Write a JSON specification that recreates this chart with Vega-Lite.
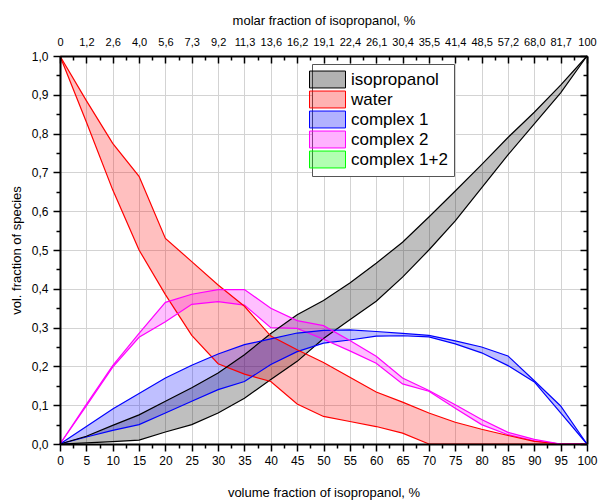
{
  "$schema": "https://vega.github.io/schema/vega-lite/v6.json",
  "width": 527,
  "height": 388,
  "autosize": {"type": "none"},
  "padding": {"left": 60, "top": 56, "right": 12, "bottom": 57},
  "background": "white",
  "config": {
    "font": "Liberation Sans",
    "view": {"stroke": null},
    "axis": {
      "domainColor": "#000", "tickColor": "#000", "labelColor": "#000", "titleColor": "#000",
      "labelFont": "Liberation Sans", "titleFont": "Liberation Sans", "titleFontWeight": "normal",
      "domainWidth": 2, "tickWidth": 1.5, "labelFlush": false, "labelOverlap": false,
      "gridColor": "#d3d3d3", "gridWidth": 1
    }
  },
  "data": {"values": [
    {"x":0,"species":"isopropanol","lo":0,"hi":0},
    {"x":5,"species":"isopropanol","lo":0.003,"hi":0.02},
    {"x":10,"species":"isopropanol","lo":0.006,"hi":0.048},
    {"x":15,"species":"isopropanol","lo":0.01,"hi":0.075},
    {"x":20,"species":"isopropanol","lo":0.031,"hi":0.11},
    {"x":25,"species":"isopropanol","lo":0.05,"hi":0.145},
    {"x":30,"species":"isopropanol","lo":0.08,"hi":0.183},
    {"x":35,"species":"isopropanol","lo":0.118,"hi":0.23},
    {"x":40,"species":"isopropanol","lo":0.166,"hi":0.285},
    {"x":45,"species":"isopropanol","lo":0.213,"hi":0.333},
    {"x":50,"species":"isopropanol","lo":0.272,"hi":0.37},
    {"x":55,"species":"isopropanol","lo":0.32,"hi":0.415},
    {"x":60,"species":"isopropanol","lo":0.368,"hi":0.466},
    {"x":65,"species":"isopropanol","lo":0.43,"hi":0.52},
    {"x":70,"species":"isopropanol","lo":0.5,"hi":0.585},
    {"x":75,"species":"isopropanol","lo":0.575,"hi":0.652},
    {"x":80,"species":"isopropanol","lo":0.66,"hi":0.72},
    {"x":85,"species":"isopropanol","lo":0.745,"hi":0.79},
    {"x":90,"species":"isopropanol","lo":0.825,"hi":0.855},
    {"x":95,"species":"isopropanol","lo":0.905,"hi":0.925},
    {"x":100,"species":"isopropanol","lo":1,"hi":1},
    {"x":0,"species":"water","lo":1,"hi":1},
    {"x":5,"species":"water","lo":0.83,"hi":0.885},
    {"x":10,"species":"water","lo":0.655,"hi":0.775},
    {"x":15,"species":"water","lo":0.5,"hi":0.69},
    {"x":20,"species":"water","lo":0.385,"hi":0.53},
    {"x":25,"species":"water","lo":0.28,"hi":0.47},
    {"x":30,"species":"water","lo":0.207,"hi":0.41},
    {"x":35,"species":"water","lo":0.18,"hi":0.355},
    {"x":40,"species":"water","lo":0.161,"hi":0.278},
    {"x":45,"species":"water","lo":0.103,"hi":0.243},
    {"x":50,"species":"water","lo":0.071,"hi":0.21},
    {"x":55,"species":"water","lo":0.058,"hi":0.172},
    {"x":60,"species":"water","lo":0.045,"hi":0.134},
    {"x":65,"species":"water","lo":0.028,"hi":0.108},
    {"x":70,"species":"water","lo":0,"hi":0.08},
    {"x":75,"species":"water","lo":0,"hi":0.056},
    {"x":80,"species":"water","lo":0,"hi":0.038},
    {"x":85,"species":"water","lo":0,"hi":0.022},
    {"x":90,"species":"water","lo":0,"hi":0.007},
    {"x":95,"species":"water","lo":0,"hi":0},
    {"x":100,"species":"water","lo":0,"hi":0},
    {"x":0,"species":"complex 1","lo":0,"hi":0},
    {"x":5,"species":"complex 1","lo":0.018,"hi":0.045},
    {"x":10,"species":"complex 1","lo":0.035,"hi":0.09},
    {"x":15,"species":"complex 1","lo":0.05,"hi":0.13},
    {"x":20,"species":"complex 1","lo":0.08,"hi":0.17},
    {"x":25,"species":"complex 1","lo":0.11,"hi":0.203},
    {"x":30,"species":"complex 1","lo":0.14,"hi":0.232},
    {"x":35,"species":"complex 1","lo":0.161,"hi":0.256},
    {"x":40,"species":"complex 1","lo":0.205,"hi":0.271},
    {"x":45,"species":"complex 1","lo":0.238,"hi":0.286},
    {"x":50,"species":"complex 1","lo":0.26,"hi":0.293},
    {"x":55,"species":"complex 1","lo":0.268,"hi":0.294},
    {"x":60,"species":"complex 1","lo":0.278,"hi":0.29},
    {"x":65,"species":"complex 1","lo":0.279,"hi":0.285},
    {"x":70,"species":"complex 1","lo":0.276,"hi":0.28},
    {"x":75,"species":"complex 1","lo":0.258,"hi":0.266},
    {"x":80,"species":"complex 1","lo":0.235,"hi":0.25},
    {"x":85,"species":"complex 1","lo":0.202,"hi":0.227},
    {"x":90,"species":"complex 1","lo":0.16,"hi":0.163},
    {"x":95,"species":"complex 1","lo":0.08,"hi":0.098},
    {"x":100,"species":"complex 1","lo":0,"hi":0},
    {"x":0,"species":"complex 2","lo":0,"hi":0},
    {"x":5,"species":"complex 2","lo":0.098,"hi":0.102},
    {"x":10,"species":"complex 2","lo":0.198,"hi":0.202},
    {"x":15,"species":"complex 2","lo":0.275,"hi":0.285},
    {"x":20,"species":"complex 2","lo":0.315,"hi":0.365},
    {"x":25,"species":"complex 2","lo":0.36,"hi":0.386},
    {"x":30,"species":"complex 2","lo":0.367,"hi":0.398},
    {"x":35,"species":"complex 2","lo":0.358,"hi":0.398},
    {"x":40,"species":"complex 2","lo":0.3,"hi":0.35},
    {"x":45,"species":"complex 2","lo":0.298,"hi":0.318},
    {"x":50,"species":"complex 2","lo":0.27,"hi":0.305},
    {"x":55,"species":"complex 2","lo":0.24,"hi":0.267},
    {"x":60,"species":"complex 2","lo":0.208,"hi":0.226},
    {"x":65,"species":"complex 2","lo":0.155,"hi":0.17},
    {"x":70,"species":"complex 2","lo":0.136,"hi":0.138},
    {"x":75,"species":"complex 2","lo":0.092,"hi":0.101},
    {"x":80,"species":"complex 2","lo":0.05,"hi":0.063},
    {"x":85,"species":"complex 2","lo":0.024,"hi":0.03},
    {"x":90,"species":"complex 2","lo":0.008,"hi":0.012},
    {"x":95,"species":"complex 2","lo":0,"hi":0},
    {"x":100,"species":"complex 2","lo":0,"hi":0}
  ]},
  "layer": [
    {
      "mark": {"type": "area", "fillOpacity": 0.25, "strokeWidth": 0},
      "encoding": {
        "x": {"field": "x", "type": "quantitative", "scale": {"domain": [0, 100], "nice": false},
          "axis": {"orient": "bottom", "values": [5,10,15,20,25,30,35,40,45,50,55,60,65,70,75,80,85,90,95], "grid": true, "domain": false, "ticks": false, "labels": false, "title": null, "zindex": 0}},
        "y": {"field": "lo", "type": "quantitative", "scale": {"domain": [0, 1], "nice": false},
          "axis": {"orient": "left", "values": [0.1,0.2,0.3,0.4,0.5,0.6,0.7,0.8,0.9], "grid": true, "domain": false, "ticks": false, "labels": false, "title": null, "zindex": 0}},
        "y2": {"field": "hi"},
        "color": {"field": "species", "type": "nominal",
          "scale": {"domain": ["isopropanol", "water", "complex 1", "complex 2", "complex 1+2"], "range": ["#000000", "#ff0000", "#0000ff", "#ff00ff", "#00ff00"]},
          "legend": {
            "orient": "none", "legendX": 252, "legendY": 8, "title": null,
            "symbolType": "M-2,-0.94H2V0.94H-2Z", "symbolSize": 324,
            "labelFontSize": 17, "labelFont": "Liberation Sans", "labelColor": "#000",
            "padding": 6, "rowPadding": -1, "labelOffset": 14,
            "strokeColor": "#555", "fillColor": "white",
            "encode": {"symbols": {"update": {"fillOpacity": {"value": 0.3}, "stroke": {"value": "#444"}, "strokeWidth": {"value": 1}, "opacity": {"value": 1}}}}
          }}
      }
    },
    {
      "mark": {"type": "line", "strokeWidth": 1.2},
      "encoding": {
        "x": {"field": "x", "type": "quantitative",
          "axis": {"orient": "bottom", "values": [0,5,10,15,20,25,30,35,40,45,50,55,60,65,70,75,80,85,90,95,100], "grid": false, "tickSize": 7, "labelFontSize": 12, "labelPadding": 4, "title": "volume fraction of isopropanol, %", "titleFontSize": 13, "titlePadding": 20, "zindex": 1}},
        "y": {"field": "lo", "type": "quantitative",
          "axis": {"orient": "left", "values": [0,0.1,0.2,0.3,0.4,0.5,0.6,0.7,0.8,0.9,1], "labelExpr": "replace(format(datum.value, '.1f'), '.', ',')", "grid": false, "tickSize": 7, "labelFontSize": 12, "labelPadding": 5, "title": "vol. fraction of species", "titleFontSize": 13, "titlePadding": 8, "zindex": 1}},
        "color": {"field": "species", "type": "nominal", "legend": null}
      }
    },
    {
      "mark": {"type": "line", "strokeWidth": 1.2},
      "encoding": {
        "x": {"field": "x", "type": "quantitative",
          "axis": {"orient": "bottom", "values": [2.5,7.5,12.5,17.5,22.5,27.5,32.5,37.5,42.5,47.5,52.5,57.5,62.5,67.5,72.5,77.5,82.5,87.5,92.5,97.5], "grid": false, "domain": false, "labels": false, "tickSize": 4, "title": null, "zindex": 1}},
        "y": {"field": "hi", "type": "quantitative",
          "axis": {"orient": "left", "values": [0.05,0.15,0.25,0.35,0.45,0.55,0.65,0.75,0.85,0.95], "grid": false, "domain": false, "labels": false, "tickSize": 4, "title": null, "zindex": 1}},
        "color": {"field": "species", "type": "nominal", "legend": null}
      }
    },
    {
      "mark": {"type": "point", "opacity": 0},
      "encoding": {
        "x": {"field": "x", "type": "quantitative",
          "axis": {"orient": "top", "values": [0,5,10,15,20,25,30,35,40,45,50,55,60,65,70,75,80,85,90,95,100],
            "labelExpr": "['0','1,2','2,6','4,0','5,6','7,3','9,2','11,3','13,6','16,2','19,1','22,4','26,1','30,4','35,5','41,4','48,5','57,2','68,0','81,7','100'][round(datum.value / 5)]",
            "grid": false, "tickSize": -7, "labelFontSize": 11, "labelPadding": 16, "title": "molar fraction of isopropanol, %", "titleFontSize": 13, "titlePadding": 9, "zindex": 1}},
        "y": {"field": "lo", "type": "quantitative",
          "axis": {"orient": "right", "values": [0,0.1,0.2,0.3,0.4,0.5,0.6,0.7,0.8,0.9,1], "grid": false, "labels": false, "tickSize": -7, "title": null, "zindex": 1}}
      }
    },
    {
      "mark": {"type": "point", "opacity": 0},
      "encoding": {
        "x": {"field": "x", "type": "quantitative",
          "axis": {"orient": "top", "values": [2.5,7.5,12.5,17.5,22.5,27.5,32.5,37.5,42.5,47.5,52.5,57.5,62.5,67.5,72.5,77.5,82.5,87.5,92.5,97.5], "grid": false, "domain": false, "labels": false, "tickSize": -4, "title": null, "zindex": 1}},
        "y": {"field": "hi", "type": "quantitative",
          "axis": {"orient": "right", "values": [0.05,0.15,0.25,0.35,0.45,0.55,0.65,0.75,0.85,0.95], "grid": false, "domain": false, "labels": false, "tickSize": -4, "title": null, "zindex": 1}}
      }
    }
  ],
  "resolve": {"axis": {"x": "independent", "y": "independent"}}
}
